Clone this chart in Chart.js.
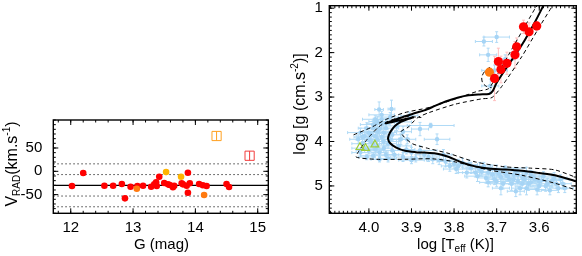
<!DOCTYPE html>
<html>
<head>
<meta charset="utf-8">
<script src="https://cdn.jsdelivr.net/npm/chart.js@4"></script>
<style>
  body { margin: 0; background: #fff; width: 582px; height: 256px; overflow: hidden; position: relative; }
  #left { position: absolute; left: 0; top: 0; }
  #right { position: absolute; left: 290px; top: 0; }
</style>
</head>
<body>
<canvas id="left" width="290" height="256"></canvas>
<canvas id="right" width="292" height="256"></canvas>
<script>
// ---------- left panel: radial velocity vs G ----------
const gRed = [12.02, 12.20, 12.54, 12.68, 12.82, 12.87, 12.96, 13.07, 13.16, 13.29, 13.34, 13.37, 13.38, 13.42, 13.50,
              13.56, 13.59, 13.64, 13.66, 13.78, 13.80, 13.86, 13.88, 13.88, 13.91, 14.06, 14.12, 14.18, 14.50, 14.54];
const vRed = [-31.5, -3.6, -30.9, -30.9, -27.2, -57.9, -33, -31.5, -30.9, -33, -27.9, -23.6, -31.5, -11.6, -25.1,
              -27.9, -29.4, -34.3, -30.9, -25.7, -27.9, -30.9, -3, -45.9, -25.7, -27.2, -30, -31.5, -27.2, -33.7];
const gOrange = [13.06, 14.14];
const vOrange = [-37.3, -50.8];
const gGold = [13.53, 13.77];
const vGold = [-1.5, -11.6];
const gBoxA = [14.34], vBoxA = [75.7];   // open orange box
const gBoxB = [14.87], vBoxB = [33.4];   // open red box
const vMean = -30;
const vLevels = [16, -7, -53, -76];
const gRange = [11.72, 15.17];
const vRange = [-90, 110];
const gTicks = [12, 13, 14, 15];
const vTicks = [-50, 0, 50];

// ---------- right panel: log g vs log Teff ----------
const tBlue = [4.020, 4.010, 4.000, 3.990, 3.980, 3.970, 3.990, 4.000, 3.980, 3.970, 3.960, 3.995, 4.015, 3.975, 3.960,
               3.985, 3.970, 4.005, 3.955, 3.945, 3.965, 3.990, 4.020, 3.980, 3.940, 3.920, 3.900, 3.890, 3.870, 3.850,
               3.935, 3.920, 3.910, 3.947, 3.985, 3.855, 3.905, 3.976, 3.930, 3.880, 3.840, 3.820, 3.800, 3.790, 3.780,
               3.760, 3.750, 3.740, 3.720, 3.710, 3.700, 3.690, 3.680, 3.670, 3.660, 3.650, 3.640, 3.630, 3.625, 3.610,
               3.600, 3.590, 3.585, 3.570, 3.560, 3.550, 3.540, 3.730, 3.655, 3.680, 3.620, 3.645, 3.700, 3.605, 3.730,
               3.700, 3.720, 3.705, 3.715, 3.680,
               4.025, 4.010, 3.995, 3.985, 3.975, 3.965, 3.960, 3.950, 3.945, 3.955, 3.975, 4.005, 4.015, 4.000, 3.990,
               3.980, 3.965, 3.985, 3.930, 3.925, 3.912, 3.900, 3.880, 3.860, 3.835, 3.825, 3.950, 3.970,
               3.810, 3.795, 3.770, 3.765, 3.745, 3.735, 3.725, 3.715, 3.705, 3.695, 3.685, 3.675, 3.665, 3.660, 3.650,
               3.640, 3.635, 3.630, 3.620, 3.615, 3.600, 3.595, 3.580, 3.575, 3.565, 3.555, 3.545, 3.690, 3.655, 3.720];
const gBlue = [3.80, 3.88, 3.95, 3.70, 3.78, 3.62, 4.05, 4.20, 4.10, 3.90, 3.70, 3.85, 4.05, 4.25, 4.30,
               3.60, 3.50, 3.70, 4.05, 3.85, 4.15, 4.32, 4.25, 3.95, 4.30, 4.35, 4.25, 4.38, 4.30, 4.40,
               3.65, 3.78, 3.95, 3.27, 3.50, 3.64, 3.42, 3.28, 3.56, 3.72, 3.95, 4.45, 4.50, 4.55, 4.48,
               4.60, 4.70, 4.62, 4.70, 4.75, 4.65, 4.80, 4.72, 4.85, 4.75, 4.90, 4.80, 4.70, 4.95, 4.85,
               4.90, 4.78, 5.00, 4.88, 4.95, 4.85, 5.05, 4.55, 4.68, 4.60, 4.75, 5.05, 4.90, 5.08, 1.75,
               1.65, 2.05, 2.40, 2.75, 2.15,
               3.95, 4.15, 4.00, 3.88, 3.72, 3.80, 3.58, 3.95, 4.20, 4.38, 4.40, 4.35, 3.90, 3.80, 3.62,
               3.55, 4.00, 4.18, 4.10, 3.95, 4.18, 4.42, 4.20, 4.35, 4.42, 4.30, 3.45, 3.40,
               4.55, 4.62, 4.70, 4.52, 4.78, 4.68, 4.82, 4.62, 4.85, 4.72, 4.95, 4.78, 4.95, 4.85, 4.75,
               4.95, 4.85, 5.05, 4.92, 4.80, 5.00, 4.88, 4.95, 5.10, 4.82, 5.05, 4.95, 5.05, 5.12, 4.92];
const eTBlue = [0.030, 0.020, 0.030, 0.020, 0.030, 0.020, 0.020, 0.030, 0.020, 0.020, 0.030, 0.020, 0.025, 0.020, 0.030,
                0.020, 0.020, 0.020, 0.020, 0.020, 0.020, 0.030, 0.020, 0.030, 0.020, 0.030, 0.020, 0.030, 0.020, 0.020,
                0.030, 0.020, 0.020, 0.008, 0.030, 0.055, 0.020, 0.010, 0.030, 0.020, 0.030, 0.020, 0.020, 0.030, 0.020,
                0.020, 0.030, 0.020, 0.020, 0.030, 0.020, 0.020, 0.030, 0.020, 0.020, 0.030, 0.020, 0.020, 0.020, 0.030,
                0.020, 0.020, 0.030, 0.020, 0.020, 0.020, 0.020, 0.020, 0.040, 0.050, 0.020, 0.020, 0.020, 0.020, 0.020,
                0.030, 0.020, 0.030, 0.020, 0.020,
                0.020, 0.030, 0.020, 0.030, 0.020, 0.030, 0.020, 0.020, 0.030, 0.020, 0.020, 0.020, 0.020, 0.020, 0.030,
                0.020, 0.030, 0.020, 0.030, 0.020, 0.020, 0.030, 0.040, 0.020, 0.030, 0.020, 0.020, 0.030,
                0.020, 0.030, 0.020, 0.020, 0.030, 0.020, 0.020, 0.030, 0.020, 0.020, 0.030, 0.020, 0.020, 0.030, 0.020,
                0.020, 0.030, 0.020, 0.020, 0.020, 0.030, 0.020, 0.020, 0.020, 0.030, 0.020, 0.020, 0.020, 0.020, 0.020];
const eGBlue = [0.10, 0.12, 0.10, 0.15, 0.10, 0.12, 0.10, 0.08, 0.12, 0.10, 0.12, 0.08, 0.10, 0.10, 0.08,
                0.10, 0.10, 0.12, 0.10, 0.12, 0.10, 0.08, 0.08, 0.12, 0.10, 0.10, 0.12, 0.08, 0.10, 0.10,
                0.10, 0.12, 0.10, 0.20, 0.08, 0.05, 0.08, 0.17, 0.10, 0.15, 0.12, 0.12, 0.10, 0.15, 0.10,
                0.12, 0.10, 0.15, 0.12, 0.10, 0.12, 0.15, 0.10, 0.12, 0.15, 0.12, 0.10, 0.12, 0.15, 0.10,
                0.12, 0.10, 0.12, 0.15, 0.10, 0.10, 0.10, 0.08, 0.08, 0.05, 0.10, 0.15, 0.12, 0.12, 0.10,
                0.12, 0.15, 0.12, 0.15, 0.10,
                0.10, 0.10, 0.12, 0.10, 0.10, 0.12, 0.10, 0.12, 0.10, 0.08, 0.06, 0.06, 0.10, 0.10, 0.10,
                0.12, 0.10, 0.10, 0.10, 0.12, 0.10, 0.08, 0.10, 0.10, 0.10, 0.12, 0.10, 0.08,
                0.12, 0.10, 0.12, 0.10, 0.12, 0.10, 0.12, 0.10, 0.12, 0.10, 0.12, 0.10, 0.15, 0.10, 0.12,
                0.10, 0.12, 0.15, 0.10, 0.12, 0.12, 0.10, 0.12, 0.10, 0.12, 0.10, 0.12, 0.15, 0.12, 0.10];
const tGiant = [3.637, 3.606, 3.624, 3.653, 3.657, 3.676, 3.696, 3.690, 3.705];
const gGiant = [1.42, 1.40, 1.53, 1.87, 2.05, 2.24, 2.20, 2.38, 2.58];
const eGGiant = [0.15, 0.10, 0.20, 0.20, 0.30, 0.25, 0.30, 0.30, 0.50];
const tClump = [3.717], gClump = [2.44];
const tTri = [4.021, 4.008, 3.986];
const gTri = [4.13, 4.15, 4.07];

// isochrone (solid) and the two bracketing ones (dashed)
const isoT = [3.505, 3.563, 3.600, 3.641, 3.680, 3.719, 3.750, 3.773, 3.795, 3.812, 3.843, 3.870, 3.890, 3.915, 3.937,
              3.950, 3.955, 3.953, 3.948, 3.939, 3.925, 3.910, 3.896, 3.920, 3.945, 3.961, 3.945, 3.920, 3.895, 3.870,
              3.845, 3.820, 3.790, 3.766, 3.740, 3.718, 3.709, 3.700, 3.672, 3.641, 3.610, 3.588];
const isoG = [4.92, 4.76, 4.71, 4.66, 4.63, 4.61, 4.56, 4.50, 4.42, 4.35, 4.27, 4.25, 4.24, 4.21, 4.13,
              4.04, 3.94, 3.85, 3.76, 3.65, 3.56, 3.50, 3.46, 3.51, 3.56, 3.59, 3.53, 3.45, 3.37, 3.30,
              3.20, 3.10, 3.01, 2.96, 2.94, 2.93, 2.86, 2.68, 2.27, 1.83, 1.31, 0.90];
const hotT = [3.505, 3.563, 3.641, 3.719, 3.797, 3.851, 3.913, 3.983, 4.030, 4.024, 4.008, 3.997, 3.978, 3.959, 3.935, 3.908, 3.877];
const hotG = [5.12, 4.94, 4.76, 4.64, 4.46, 4.39, 4.40, 4.40, 4.35, 4.22, 4.00, 3.87, 3.68, 3.56, 3.48, 3.44, 3.46];
const hot2T = [4.036, 3.994, 3.959, 3.916, 3.861, 3.799, 3.745, 3.719, 3.703, 3.672, 3.641, 3.610, 3.600];
const hot2G = [3.85, 3.68, 3.50, 3.35, 3.24, 3.05, 2.87, 2.81, 2.57, 2.05, 1.53, 1.01, 0.88];
const coolT = [3.505, 3.563, 3.620, 3.680, 3.750, 3.812, 3.859, 3.898, 3.917, 3.925, 3.908, 3.896, 3.885, 3.859, 3.797,
               3.735, 3.711, 3.688, 3.641, 3.602, 3.571, 3.560];
const coolG = [4.84, 4.64, 4.60, 4.57, 4.46, 4.27, 4.16, 4.05, 3.90, 3.78, 3.68, 3.56, 3.46, 3.35, 3.16,
               3.04, 3.01, 2.76, 2.09, 1.46, 0.98, 0.85];
const loopT = [3.716, 3.728, 3.735, 3.733, 3.724, 3.712];
const loopG = [2.33, 2.42, 2.55, 2.68, 2.76, 2.79];
const tRange = [3.513, 4.093];
const lgRange = [0.944, 5.616];
const tTicks = [4.0, 3.9, 3.8, 3.7, 3.6];
const lgTicks = [1, 2, 3, 4, 5];

// ---------- helpers ----------
const FONT = '"Liberation Sans", Arial, Helvetica, sans-serif';
Chart.defaults.font.family = FONT;
Chart.defaults.font.size = 15;
Chart.defaults.color = '#000';

const pts = (xs, ys) => xs.map((x, i) => ({ x: x, y: ys[i] }));
const fixTicks = vals => scale => { scale.ticks = vals.map(v => ({ value: v })); };
const fixSize = (key, size) => s => {
  s[key] = size;
  s.paddingTop = s.paddingBottom = s.paddingLeft = s.paddingRight = 0;
};

function drawRich(ctx, parts, cx, cy, rotate) {
  ctx.save();
  ctx.translate(cx, cy);
  if (rotate) ctx.rotate(-Math.PI / 2);
  let total = 0;
  parts.forEach(p => { ctx.font = p.s + 'px ' + FONT; total += ctx.measureText(p.t).width; });
  let x = -total / 2;
  ctx.fillStyle = '#000';
  ctx.textBaseline = 'alphabetic';
  parts.forEach(p => {
    ctx.font = p.s + 'px ' + FONT;
    ctx.fillText(p.t, x, 5.5 + (p.dy || 0));
    x += ctx.measureText(p.t).width;
  });
  ctx.restore();
}

// box with inward major/minor ticks on all four sides, plus axis titles
const framePlugin = {
  id: 'frame',
  afterDraw(chart, args, o) {
    const { ctx, chartArea: a, scales: { x, y } } = chart;
    ctx.save();
    ctx.strokeStyle = '#000';
    ctx.lineWidth = 1;
    const tickX = (v, len) => {
      const p = x.getPixelForValue(v);
      ctx.beginPath();
      ctx.moveTo(p, a.bottom); ctx.lineTo(p, a.bottom - len);
      ctx.moveTo(p, a.top); ctx.lineTo(p, a.top + len);
      ctx.stroke();
    };
    const tickY = (v, len) => {
      const p = y.getPixelForValue(v);
      ctx.beginPath();
      ctx.moveTo(a.left, p); ctx.lineTo(a.left + len, p);
      ctx.moveTo(a.right, p); ctx.lineTo(a.right - len, p);
      ctx.stroke();
    };
    for (let v = Math.ceil(x.min / o.xMinor) * o.xMinor; v <= x.max; v += o.xMinor) tickX(v, 2.5);
    for (let v = Math.ceil(y.min / o.yMinor) * o.yMinor; v <= y.max; v += o.yMinor) tickY(v, 2.5);
    x.ticks.forEach(t => tickX(t.value, 5));
    y.ticks.forEach(t => tickY(t.value, 5));
    ctx.lineWidth = 1.4;
    ctx.strokeRect(a.left, a.top, a.width, a.height);
    ctx.restore();
    (o.titles || []).forEach(t => drawRich(ctx, t.parts, t.x, t.y, t.rot));
  }
};

const errorBarPlugin = {
  id: 'errbars',
  beforeDatasetsDraw(chart) {
    const { ctx, chartArea: a, scales: { x, y } } = chart;
    ctx.save();
    ctx.beginPath();
    ctx.rect(a.left, a.top, a.width, a.height);
    ctx.clip();
    ctx.lineWidth = 1;
    chart.data.datasets.forEach(ds => {
      if (!ds.errX && !ds.errY) return;
      ctx.strokeStyle = ds.errColor;
      ds.data.forEach((p, i) => {
        const px = x.getPixelForValue(p.x), py = y.getPixelForValue(p.y);
        ctx.beginPath();
        if (ds.errX) {
          const l = x.getPixelForValue(p.x - ds.errX[i]), r = x.getPixelForValue(p.x + ds.errX[i]);
          ctx.moveTo(l, py); ctx.lineTo(r, py);
          ctx.moveTo(l, py - 1.5); ctx.lineTo(l, py + 1.5);
          ctx.moveTo(r, py - 1.5); ctx.lineTo(r, py + 1.5);
        }
        if (ds.errY) {
          const t = y.getPixelForValue(p.y - ds.errY[i]), b = y.getPixelForValue(p.y + ds.errY[i]);
          ctx.moveTo(px, t); ctx.lineTo(px, b);
          ctx.moveTo(px - 1.5, t); ctx.lineTo(px + 1.5, t);
          ctx.moveTo(px - 1.5, b); ctx.lineTo(px + 1.5, b);
        }
        ctx.stroke();
      });
    });
    ctx.restore();
  }
};

const dot = (data, color, r, order) => ({
  data: data, pointRadius: r, pointBackgroundColor: color, pointBorderColor: color,
  pointBorderWidth: 0, showLine: false, order: order
});
const curve = (data, dash, width, order) => ({
  data: data, showLine: true, borderColor: '#000', borderWidth: width, borderDash: dash,
  pointRadius: 0, tension: 0.25, fill: false, order: order
});

// ---------- left chart ----------
const levelSets = vLevels.map(v => ({
  data: [{ x: gRange[0], y: v }, { x: gRange[1], y: v }],
  showLine: true, borderColor: '#444', borderWidth: 1, borderDash: [1.5, 2.5], pointRadius: 0, order: 9
}));

new Chart(document.getElementById('left'), {
  type: 'scatter',
  data: {
    datasets: [
      dot(pts(gRed, vRed), '#ff0000', 3.3, 1),
      dot(pts(gOrange, vOrange), '#ff7a10', 3.3, 0),
      dot(pts(gGold, vGold), '#ffb400', 3.3, 0),
      { data: pts(gBoxA, vBoxA), pointStyle: 'rect', pointRadius: 6.5, pointBorderColor: '#ffa020',
        pointBackgroundColor: 'rgba(0,0,0,0)', pointBorderWidth: 1, order: 2 },
      { data: pts(gBoxA, vBoxA), pointStyle: 'line', rotation: 90, pointRadius: 4.6, pointBorderColor: '#ffa020',
        pointBorderWidth: 1, order: 2 },
      { data: pts(gBoxB, vBoxB), pointStyle: 'rect', pointRadius: 6.5, pointBorderColor: '#f23c3c',
        pointBackgroundColor: 'rgba(0,0,0,0)', pointBorderWidth: 1, order: 2 },
      { data: pts(gBoxB, vBoxB), pointStyle: 'line', rotation: 90, pointRadius: 4.6, pointBorderColor: '#f23c3c',
        pointBorderWidth: 1, order: 2 },
      { data: [{ x: gRange[0], y: vMean }, { x: gRange[1], y: vMean }], showLine: true, borderColor: '#000',
        borderWidth: 1.2, pointRadius: 0, order: 8 },
      ...levelSets
    ]
  },
  options: {
    responsive: false, animation: false, events: [],
    layout: { padding: { top: 120, right: 21.7, left: 0, bottom: 0 } },
    plugins: {
      legend: { display: false }, tooltip: { enabled: false },
      frame: {
        xMinor: 0.2, yMinor: 10,
        titles: [
          { x: 161.5, y: 243, parts: [{ t: 'G (mag)', s: 15 }] },
          { x: 11.5, y: 164, rot: true, parts: [{ t: 'V', s: 16 }, { t: 'RAD', s: 10, dy: 3 }, { t: '(km.s', s: 16 },
                                                 { t: '-1', s: 10, dy: -7 }, { t: ')', s: 16 }] }
        ]
      }
    },
    scales: {
      x: {
        type: 'linear', min: gRange[0], max: gRange[1],
        afterBuildTicks: fixTicks(gTicks), afterFit: fixSize('height', 42.7),
        grid: { display: false, drawTicks: false }, border: { display: false },
        ticks: { padding: 6, maxRotation: 0 }
      },
      y: {
        type: 'linear', min: vRange[0], max: vRange[1],
        afterBuildTicks: fixTicks(vTicks), afterFit: fixSize('width', 53.3),
        grid: { display: false, drawTicks: false }, border: { display: false },
        ticks: { padding: 11 }
      }
    }
  },
  plugins: [framePlugin]
});

// ---------- right chart ----------
new Chart(document.getElementById('right'), {
  type: 'scatter',
  data: {
    datasets: [
      Object.assign(dot(pts(tGiant, gGiant), '#ff0000', 4.6, 0),
                    { errY: eGGiant, errX: tGiant.map(() => 0.006), errColor: '#ffc0c0' }),
      dot(pts(tClump, gClump), '#ff7a10', 4.6, 0),
      { data: pts(tTri, gTri), pointStyle: 'triangle', pointRadius: 4.5, pointBorderColor: '#9ccc3c',
        pointBackgroundColor: 'rgba(0,0,0,0)', pointBorderWidth: 1.2, order: 1 },
      curve(pts(isoT, isoG), [], 2, 2),
      curve(pts(hotT, hotG), [4, 3], 1, 3),
      curve(pts(hot2T, hot2G), [4, 3], 1, 3),
      curve(pts(coolT, coolG), [4, 3], 1, 3),
      curve(pts(loopT, loopG), [4, 3], 1, 3),
      Object.assign(dot(pts(tBlue, gBlue), '#a6d4f5', 2.2, 6),
                    { errX: eTBlue, errY: eGBlue, errColor: '#b0daf6' })
    ]
  },
  options: {
    responsive: false, animation: false, events: [],
    layout: { padding: { top: 4, right: 4, left: 0, bottom: 0 } },
    plugins: {
      legend: { display: false }, tooltip: { enabled: false },
      frame: {
        xMinor: 0.01, yMinor: 0.1,
        titles: [
          { x: 165.5, y: 243, parts: [{ t: 'log [T', s: 15 }, { t: 'eff', s: 10, dy: 3 }, { t: ' (K)]', s: 15 }] },
          { x: 9, y: 104, rot: true, parts: [{ t: 'log [g (cm.s', s: 16 }, { t: '-2', s: 10, dy: -7 }, { t: ')]', s: 16 }] }
        ]
      }
    },
    scales: {
      x: {
        type: 'linear', reverse: true, min: tRange[0], max: tRange[1],
        afterBuildTicks: fixTicks(tTicks), afterFit: fixSize('height', 42.7),
        grid: { display: false, drawTicks: false }, border: { display: false },
        ticks: { padding: 6, maxRotation: 0, callback: v => Number(v).toFixed(1) }
      },
      y: {
        type: 'linear', reverse: true, min: lgRange[0], max: lgRange[1],
        afterBuildTicks: fixTicks(lgTicks), afterFit: fixSize('width', 39.3),
        grid: { display: false, drawTicks: false }, border: { display: false },
        ticks: { padding: 6.5 }
      }
    }
  },
  plugins: [framePlugin, errorBarPlugin]
});
</script>
</body>
</html>
